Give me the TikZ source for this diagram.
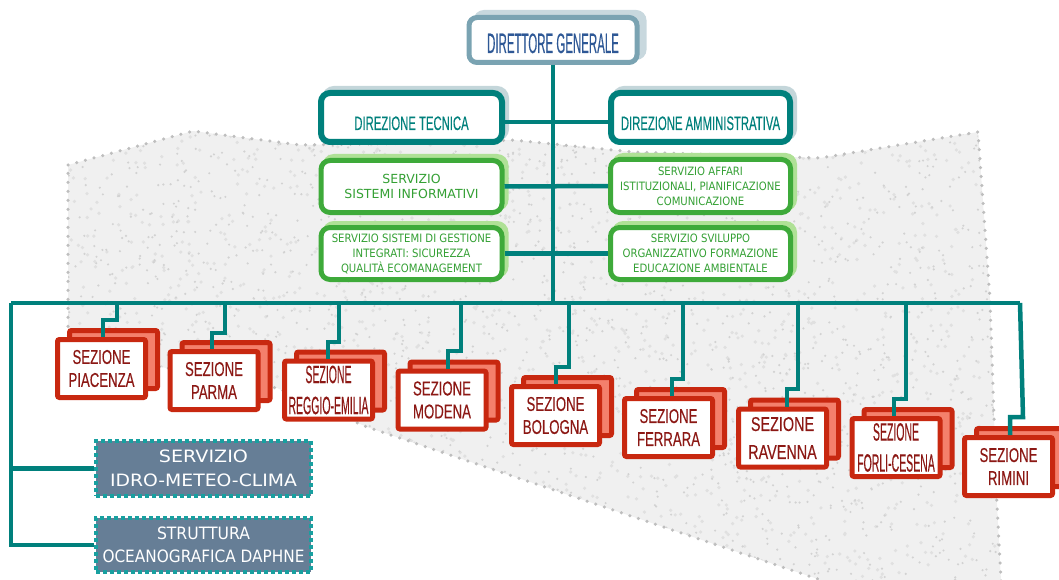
\documentclass[tikz,border=0pt]{standalone}
\usepackage{fontspec}
\usetikzlibrary{shadows}
\setmainfont{Liberation Sans}
\newfontfamily\dgfont[FakeStretch=0.41,FakeBold=0.25]{Liberation Sans}
\newfontfamily\dirfont[FakeStretch=0.58,FakeBold=0.2]{Liberation Sans}
\newfontfamily\grfont{DejaVu Sans}
\newfontfamily\grfontn[FakeStretch=0.88]{DejaVu Sans}
\newfontfamily\slfont{DejaVu Sans}
\newfontfamily\sezfont[FakeStretch=0.66,FakeBold=0.25]{Liberation Sans}
\newfontfamily\ravfont[FakeStretch=0.72,FakeBold=0.25]{Liberation Sans}
\newfontfamily\sezfontn[FakeStretch=0.42,FakeBold=0.25]{Liberation Sans}
\definecolor{tl}{RGB}{0,128,124}
\definecolor{tlshadow}{RGB}{196,214,218}
\definecolor{dgb}{RGB}{122,163,178}
\definecolor{dgt}{RGB}{46,88,150}
\definecolor{dgshadow}{RGB}{200,216,222}
\definecolor{grb}{RGB}{62,170,58}
\definecolor{grt}{RGB}{52,160,52}
\definecolor{grshadow}{RGB}{175,225,150}
\definecolor{redb}{RGB}{200,40,16}
\definecolor{salmon}{RGB}{244,128,108}
\definecolor{redt}{RGB}{140,24,20}
\definecolor{slate}{RGB}{102,126,150}
\definecolor{slateb}{RGB}{24,160,160}
\definecolor{bgfill}{RGB}{240,240,240}
\definecolor{bgspeck}{RGB}{210,210,210}
\definecolor{bgspeckb}{RGB}{224,224,224}
\definecolor{bgdot}{RGB}{190,190,190}
\tikzset{
  conn/.style={draw=tl, line width=4.5pt},
  dgbox/.style={draw=dgb, line width=5pt, fill=white, rounded corners=8pt,
    minimum width=168pt, minimum height=45pt, inner sep=0pt, text=dgt,
    font={\dgfont\fontsize{28}{30}\selectfont}, text height=26pt, text depth=0pt,
    drop shadow={shadow xshift=7pt, shadow yshift=5pt, fill=dgshadow, draw=dgshadow, opacity=1}},
  tbox/.style={draw=tl, line width=6pt, fill=white, rounded corners=9pt,
    minimum width=181pt, minimum height=49pt, inner sep=0pt, text=tl,
    font={\dirfont\fontsize{19.5}{22}\selectfont}, text height=25pt, text depth=0pt,
    drop shadow={shadow xshift=4pt, shadow yshift=4pt, fill=tlshadow, draw=tlshadow, opacity=1}},
  gbox/.style={draw=grb, line width=5pt, fill=white, rounded corners=9pt,
    minimum width=181pt, minimum height=52pt, inner sep=0pt, text=grt, align=center,
    drop shadow={shadow xshift=4pt, shadow yshift=4pt, fill=grshadow, draw=grshadow, opacity=1}},
  gtwo/.style={font={\grfont\fontsize{12.5}{15}\selectfont}},
  gthree/.style={font={\grfontn\fontsize{11.5}{15}\selectfont}},
  sbox/.style={fill=slate, draw=slateb, line width=4pt, dash pattern=on 4pt off 3pt,
    minimum width=215pt, minimum height=55pt, inner sep=0pt, text=white, align=center,
    font={\slfont\fontsize{17}{23.5}\selectfont}},
  sezf/.style={draw=redb, fill=white, line width=5pt, rounded corners=2pt,
    minimum width=88pt, minimum height=58pt, inner sep=0pt, text=redt, align=center,
    font={\sezfont\fontsize{20}{23}\selectfont}},
  sezb/.style={draw=redb, fill=salmon, line width=5pt, rounded corners=2pt,
    minimum width=88pt, minimum height=58pt, inner sep=0pt},
  rav/.style={font={\ravfont\fontsize{20}{28}\selectfont}},
  narrow/.style={font={\sezfontn\fontsize{25}{31}\selectfont}},
}
\newcommand\fitw[2]{\resizebox{#1}{\height}{#2}}
\newcommand\sezione[5]{%
  \node[sezb] (#1b) at (#2+12,#3-9) {};
  \node[sezf,#4] (#1) at (#2,#3) {#5};}
\begin{document}
\begin{tikzpicture}[x=1pt,y=-1pt]
\useasboundingbox (0,0) rectangle (1059,580);
\begin{scope}
  \clip (0,0) rectangle (1059,580);
  \def\bgpath{(68,165) -- (193,131) -- (300,145) -- (420,143) -- (513,140) -- (633,152) -- (820,158) -- (978,132) -- (990,300) -- (997,505) -- (1002,600) -- (880,600) -- (367,427) -- (277,388) -- (167,368) -- (100,358) -- (68,335) -- cycle}
  \fill[bgfill] \bgpath;
  \begin{scope}
    \clip \bgpath;
    \pgfmathsetseed{7}
    \fill[bgspeckb] \foreach \i in {1,...,1800}{ ({60+rnd*945},{128+rnd*455}) circle[radius=1.8pt] };
    \fill[bgspeck] \foreach \i in {1,...,1800}{ ({60+rnd*945},{128+rnd*455}) circle[radius=1.2pt] };
  \end{scope}
  \draw[bgdot, line width=3.5pt, dash pattern=on 0pt off 9pt, line cap=round] \bgpath;
\end{scope}

% top boxes
\node[dgbox] (dg) at (553,40) {DIRETTORE GENERALE};
\node[tbox] (dt) at (411.5,117.5) {DIREZIONE TECNICA};
\node[tbox, minimum width=179pt] (da) at (700.5,117.5) {DIREZIONE AMMINISTRATIVA};
\node[gbox,gtwo] (si) at (411.5,186.5) {SERVIZIO\\SISTEMI INFORMATIVI};
\node[gbox,gthree, minimum height=53pt, minimum width=180pt] (aff) at (700.5,186) {SERVIZIO AFFARI\\ISTITUZIONALI, PIANIFICAZIONE\\COMUNICAZIONE};
\node[gbox,gthree] (sgi) at (411.5,253.5) {SERVIZIO SISTEMI DI GESTIONE\\INTEGRATI: SICUREZZA\\QUALITÀ ECOMANAGEMENT};
\node[gbox,gthree, minimum width=180pt] (svi) at (700.5,253.5) {SERVIZIO SVILUPPO\\ORGANIZZATIVO FORMAZIONE\\EDUCAZIONE AMBIENTALE};

% bar coordinates
\coordinate (barL) at (11,303);
\coordinate (barR) at (1020,303);

% trunk and links
\draw[conn] (dg.south) -- (dg.south |- barL);
\draw[conn] ([yshift=-4.5pt]dt.east) -- ([yshift=-4.5pt]da.west);
\draw[conn] (si.east) -- (aff.west);
\draw[conn] (sgi.east) -- (svi.west);
\draw[conn] (barL) -- (barR);

% gray boxes
\node[sbox] (idro) at (203.5,468.5) {\fitw{89pt}{SERVIZIO}\\\fitw{187pt}{IDRO-METEO-CLIMA}};
\node[sbox, minimum height=54pt] (daph) at (203.5,545) {\fitw{93pt}{STRUTTURA}\\\fitw{202pt}{OCEANOGRAFICA DAPHNE}};
\draw[conn] (barL) |- (idro.west);
\draw[conn] (barL) |- (daph.west);

% sezioni
\sezione{pia}{101.5}{368.5}{}{SEZIONE\\PIACENZA}
\sezione{par}{214}{380.5}{}{SEZIONE\\PARMA}
\sezione{reg}{328.5}{390}{narrow}{SEZIONE\\REGGIO-EMILIA}
\sezione{mod}{442}{400}{}{SEZIONE\\MODENA}
\sezione{bol}{555.5}{415.5}{}{SEZIONE\\BOLOGNA}
\sezione{fer}{668.5}{427.5}{}{SEZIONE\\FERRARA}
\sezione{rav}{782.5}{438}{rav}{SEZIONE\\RAVENNA}
\sezione{for}{896}{447.5}{narrow}{SEZIONE\\FORLI-CESENA}
\sezione{rim}{1008.5}{466.5}{}{SEZIONE\\RIMINI}

% connectors to sezioni
\coordinate (c1) at (117,303);
\coordinate (c2) at (225,303);
\coordinate (c3) at (339,303);
\coordinate (c4) at (461,303);
\coordinate (c5) at (569,303);
\coordinate (c6) at (683,303);
\coordinate (c7) at (798,303);
\coordinate (c8) at (906,303);
\draw[conn] (c1) -- ++(0,17) -| ([xshift=1.5pt]pia.north);
\draw[conn] (c2) -- ++(0,30) -| ([xshift=-2pt]par.north);
\draw[conn] (c3) -- ++(0,39) -| ([xshift=-0.5pt]reg.north);
\draw[conn] (c4) -- ++(0,48) -| ([xshift=6pt]mod.north);
\draw[conn] (c5) -- ++(0,64) -| ([xshift=0.5pt]bol.north);
\draw[conn] (c6) -- ++(0,76) -| ([xshift=3.5pt]fer.north);
\draw[conn] (c7) -- ++(0,86) -| ([xshift=4.5pt]rav.north);
\draw[conn] (c8) -- ++(0,96) -| ([xshift=-2pt]for.north);
\draw[conn] (barR) -- ++(3,114) -| ([xshift=1.5pt]rim.north);
\end{tikzpicture}
\end{document}
